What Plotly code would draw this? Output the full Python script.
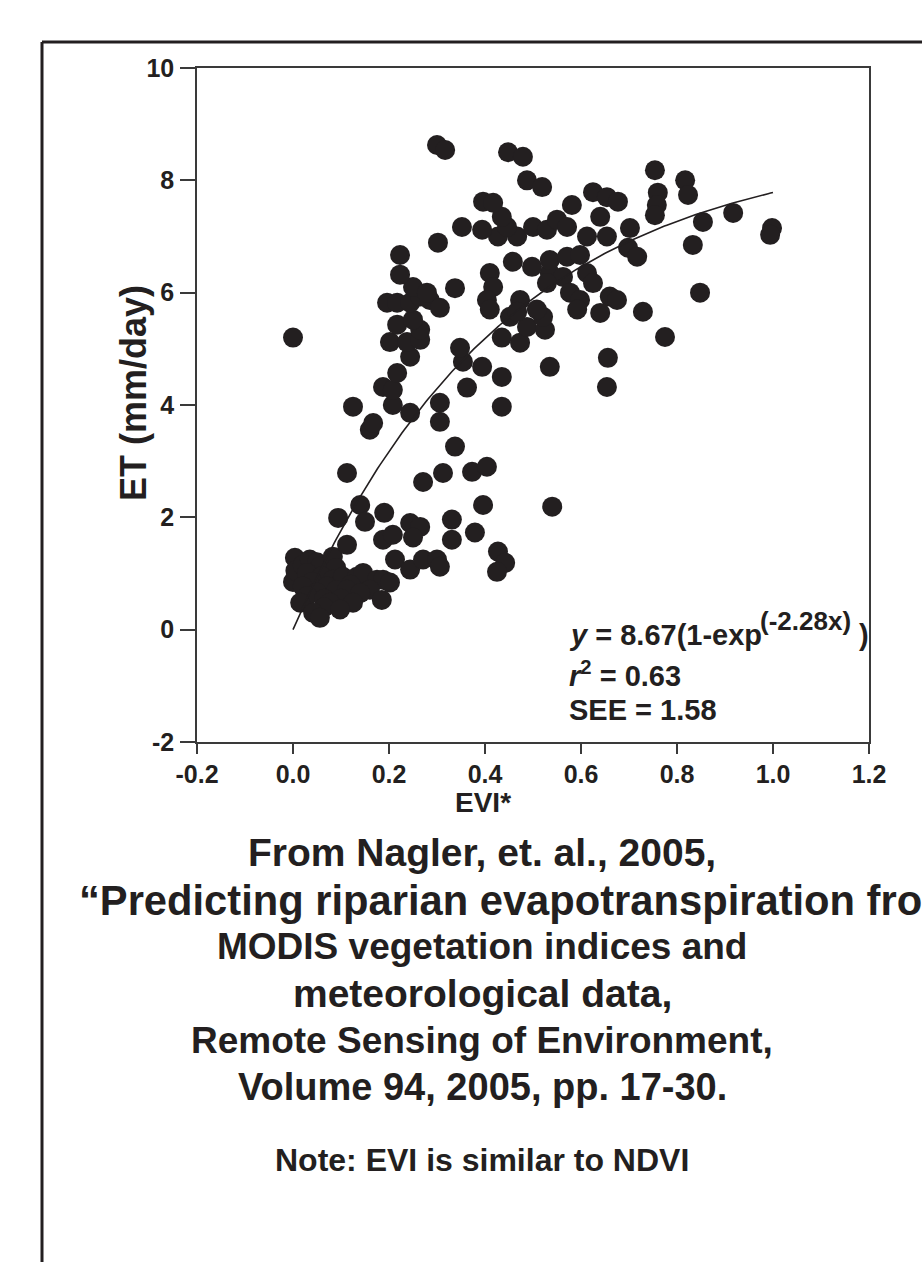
import numpy as np
import plotly.graph_objects as go

# ---------------- data ----------------
evi_low = [0.0, 0.004, 0.005, 0.02, 0.035, 0.05, 0.056, 0.083, 0.09, 0.029, 0.06, 0.04,
           0.083, 0.104, 0.133, 0.146, 0.175, 0.1875, 0.202, 0.12, 0.02, 0.071, 0.09, 0.1125,
           0.16, 0.05, 0.14, 0.03, 0.065, 0.1, 0.185, 0.015, 0.077, 0.125, 0.065, 0.098,
           0.042, 0.056]
et_low = [0.85, 1.28, 1.05, 1.15, 1.25, 1.2, 1.12, 1.30, 1.1, 1.01, 0.95, 0.85,
          0.89, 0.94, 0.94, 1.01, 0.89, 0.89, 0.84, 0.8, 0.77, 0.77, 0.7, 0.71,
          0.71, 0.66, 0.65, 0.6, 0.55, 0.55, 0.53, 0.48, 0.48, 0.48, 0.4, 0.36,
          0.30, 0.21]

evi_lowmid = [0.1125, 0.094, 0.14, 0.15, 0.19, 0.1875, 0.208, 0.244, 0.265, 0.25, 0.2125,
              0.244, 0.271, 0.3, 0.306, 0.331, 0.331, 0.379, 0.396, 0.427, 0.442, 0.425, 0.54]
et_lowmid = [1.51, 1.99, 2.22, 1.92, 2.08, 1.6, 1.69, 1.9, 1.83, 1.64, 1.25,
             1.07, 1.25, 1.25, 1.12, 1.96, 1.6, 1.73, 2.22, 1.39, 1.19, 1.03, 2.19]

evi_mid = [0.1125, 0.271, 0.3125, 0.373, 0.404, 0.3375, 0.16, 0.167, 0.125, 0.208, 0.244,
           0.306, 0.306, 0.435, 0.1875, 0.208, 0.217, 0.3625, 0.435, 0.394, 0.354, 0.348,
           0.535, 0.656, 0.654, 0.244, 0.202, 0.2375, 0.265, 0.265, 0.217, 0.25, 0.0,
           0.435, 0.473, 0.4875, 0.525, 0.452, 0.521, 0.775, 0.729]
et_mid = [2.79, 2.63, 2.79, 2.81, 2.9, 3.26, 3.56, 3.68, 3.97, 4.0, 3.86,
          3.7, 4.04, 3.97, 4.32, 4.27, 4.57, 4.31, 4.5, 4.68, 4.77, 5.02,
          4.68, 4.84, 4.32, 4.86, 5.12, 5.12, 5.16, 5.34, 5.43, 5.52, 5.2,
          5.2, 5.11, 5.39, 5.34, 5.57, 5.57, 5.21, 5.66]

evi_high = [0.196, 0.217, 0.244, 0.265, 0.285, 0.306, 0.25, 0.279, 0.223, 0.223, 0.3375,
            0.302, 0.41, 0.417, 0.404, 0.41, 0.473, 0.467, 0.508, 0.535, 0.5625, 0.529,
            0.577, 0.598, 0.592, 0.6125, 0.625, 0.66, 0.675, 0.64, 0.458, 0.498, 0.535,
            0.571, 0.598, 0.698, 0.717, 0.427, 0.467, 0.6125, 0.654, 0.352, 0.394, 0.446,
            0.435, 0.5, 0.529, 0.55, 0.571, 0.702, 0.64, 0.396, 0.417, 0.581, 0.625,
            0.654, 0.677, 0.4875, 0.519, 0.448, 0.479, 0.30, 0.317, 0.754, 0.817, 0.823,
            0.76, 0.758, 0.754, 0.854, 0.917, 0.998, 0.994, 0.833, 0.848]
et_high = [5.82, 5.82, 5.82, 5.93, 5.87, 5.73, 6.1, 6.0, 6.32, 6.67, 6.08,
           6.89, 6.35, 6.1, 5.87, 5.7, 5.87, 5.66, 5.7, 6.35, 6.28, 6.17,
           6.0, 5.87, 5.7, 6.35, 6.17, 5.93, 5.87, 5.64, 6.55, 6.46, 6.58,
           6.64, 6.67, 6.8, 6.64, 7.0, 7.0, 7.0, 7.0, 7.17, 7.12, 7.17,
           7.35, 7.17, 7.12, 7.3, 7.17, 7.15, 7.35, 7.62, 7.6, 7.56, 7.79,
           7.70, 7.62, 8.0, 7.88, 8.5, 8.42, 8.63, 8.54, 8.18, 8.0, 7.74,
           7.78, 7.56, 7.38, 7.26, 7.42, 7.15, 7.03, 6.85, 6.0]

evi = evi_low + evi_lowmid + evi_mid + evi_high
et = et_low + et_lowmid + et_mid + et_high

# fitted model shown on the chart: y = a(1-exp(-b x))
fit_a = 8.67
fit_b = 2.28
fit_xmin, fit_xmax = 0.0, 1.0

x_tickvals = [-0.2, 0.0, 0.2, 0.4, 0.6, 0.8, 1.0, 1.2]
x_ticktext = ["-0.2", "0.0", "0.2", "0.4", "0.6", "0.8", "1.0", "1.2"]
y_tickvals = [-2, 0, 2, 4, 6, 8, 10]
y_ticktext = ["-2", "0", "2", "4", "6", "8", "10"]

caption_lines = [
    "From Nagler, et. al., 2005,",
    "\u201cPredicting riparian evapotranspiration from",
    "MODIS vegetation indices and",
    "meteorological data,",
    "Remote Sensing of Environment,",
    "Volume 94, 2005, pp. 17-30.",
    "Note: EVI is similar to NDVI",
]

# ---------------- layout geometry ----------------
W, H = 922, 1262
L, R, T, B = 197, 53, 68, 520
PW, PH = W - L - R, H - T - B
INK = "#231f20"
FONT = "Liberation Sans, Arial, Helvetica, sans-serif"


def pxx(xp):
    return (xp - L) / PW


def pxy(yp):
    return (H - B - yp) / PH


fit_x = np.linspace(fit_xmin, fit_xmax, 200)
fit_y = fit_a * (1 - np.exp(-fit_b * fit_x))

fig = go.Figure()
fig.add_trace(go.Scatter(
    x=evi, y=et, mode="markers",
    marker=dict(size=20, color=INK, line=dict(width=0)),
    hoverinfo="x+y", showlegend=False,
))
fig.add_trace(go.Scatter(
    x=fit_x, y=fit_y, mode="lines",
    line=dict(color=INK, width=1.6),
    hoverinfo="skip", showlegend=False,
))

axis_common = dict(
    showline=True, linecolor="#3a3a3a", linewidth=1.5, mirror=True,
    showgrid=False, zeroline=False, ticks="outside", tickcolor="#3a3a3a",
    tickwidth=1.5,
    tickfont=dict(family=FONT, size=25, color=INK, weight="bold"),
)

fig.update_layout(
    width=W, height=H,
    margin=dict(l=L, r=R, t=T, b=B, pad=0),
    paper_bgcolor="white", plot_bgcolor="white",
    font=dict(family=FONT, color=INK),
    xaxis=dict(range=[-0.2, 1.2], tickvals=x_tickvals, ticktext=x_ticktext,
               ticklen=10, ticklabelstandoff=-1, **axis_common),
    yaxis=dict(range=[-2, 10], tickvals=y_tickvals, ticktext=y_ticktext,
               ticklen=15, ticklabelstandoff=1, **axis_common),
)

ann = []
# axis titles
ann.append(dict(text="<b>EVI*</b>", x=pxx(483), y=pxy(802), xref="paper", yref="paper",
                xanchor="center", yanchor="middle", showarrow=False,
                font=dict(family=FONT, size=28, color=INK)))
ann.append(dict(text="<b>ET (mm/day)</b>", x=pxx(133), y=pxy(393), xref="paper", yref="paper",
                xanchor="center", yanchor="middle", showarrow=False, textangle=-90,
                font=dict(family=FONT, size=36, color=INK)))
# equation block
eq_font = dict(family=FONT, size=29, color=INK)
ann.append(dict(text="<b><i>y</i> = 8.67(1-exp</b>", x=pxx(567), y=pxy(635), xref="paper",
                yref="paper", xanchor="left", yanchor="middle", showarrow=False, font=eq_font))
ann.append(dict(text="<b>(-2.28x)</b>", x=pxx(758), y=pxy(621), xref="paper",
                yref="paper", xanchor="left", yanchor="middle", showarrow=False,
                font=dict(family=FONT, size=26, color=INK)))
ann.append(dict(text="<b>)</b>", x=pxx(857), y=pxy(635), xref="paper",
                yref="paper", xanchor="left", yanchor="middle", showarrow=False, font=eq_font))
ann.append(dict(text="<b><i>r</i><sup>2</sup> = 0.63</b>", x=pxx(567), y=pxy(674), xref="paper",
                yref="paper", xanchor="left", yanchor="middle", showarrow=False, font=eq_font))
ann.append(dict(text="<b>SEE = 1.58</b>", x=pxx(567), y=pxy(710), xref="paper",
                yref="paper", xanchor="left", yanchor="middle", showarrow=False, font=eq_font))

# caption
cap_y = [852, 900, 946, 993, 1040, 1087, 1160]
cap_size = [39, 41.7, 37, 39, 37, 38, 32]
for i, (line, yc, fs) in enumerate(zip(caption_lines, cap_y, cap_size)):
    if i == 1:
        ann.append(dict(text="<b>" + line + "</b>", x=pxx(77), y=pxy(yc), xref="paper",
                        yref="paper", xanchor="left", yanchor="middle", showarrow=False,
                        font=dict(family=FONT, size=fs, color=INK)))
    else:
        ann.append(dict(text="<b>" + line + "</b>", x=pxx(482), y=pxy(yc), xref="paper",
                        yref="paper", xanchor="center", yanchor="middle", showarrow=False,
                        font=dict(family=FONT, size=fs, color=INK)))
fig.update_layout(annotations=ann)

# outer frame (left and top edges visible)
fig.add_shape(type="line", xref="paper", yref="paper",
              x0=pxx(42), x1=pxx(42), y0=pxy(42), y1=pxy(1262),
              line=dict(color=INK, width=3))
fig.add_shape(type="line", xref="paper", yref="paper",
              x0=pxx(42), x1=pxx(922), y0=pxy(42), y1=pxy(42),
              line=dict(color=INK, width=3))

fig.write_html("out.html")
